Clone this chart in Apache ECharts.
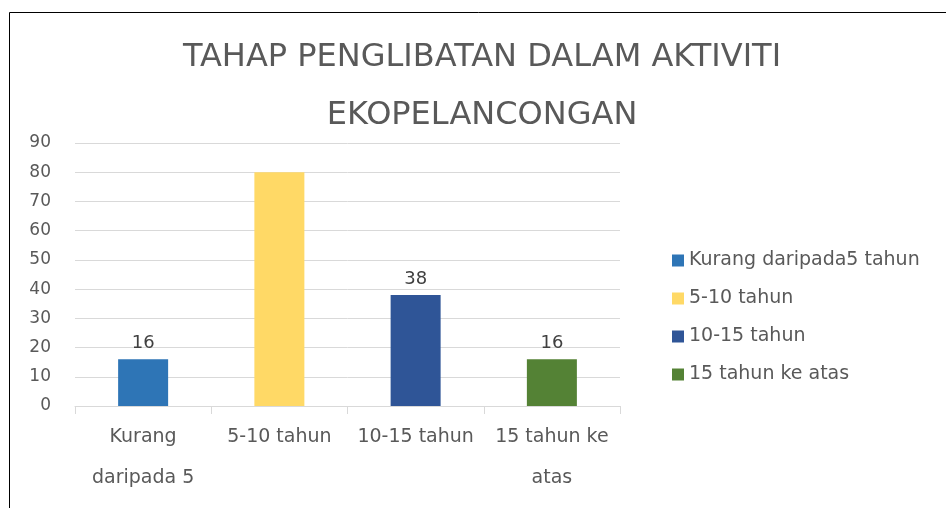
<!DOCTYPE html>
<html>
<head>
<meta charset="utf-8">
<script src="https://cdn.jsdelivr.net/npm/echarts@6/dist/echarts.min.js"></script>
<style>
  html, body { margin: 0; padding: 0; background: #fff; }
  #chart { width: 946px; height: 508px; }
</style>
</head>
<body>
<div id="chart"></div>
<script>
// data
const categories = ['Kurang daripada5 tahun', '5-10 tahun', '10-15 tahun', '15 tahun ke atas']
const axisLabels = ['Kurang\ndaripada 5\ntahun', '5-10 tahun', '10-15 tahun', '15 tahun ke\natas']
const values = [16, 80, 38, 16]
const colors = ['#2E75B6', '#FFD966', '#2F5597', '#548235']
const labelShown = [true, false, true, true] // yellow bar label is not visible in the reference
const titleLines = ['TAHAP PENGLIBATAN DALAM AKTIVITI', 'EKOPELANCONGAN']

const myChart = echarts.init(document.getElementById('chart'))

// one series per category so every bar gets its own legend entry
const series = categories.map((name, i) => ({
  name: name,
  type: 'bar',
  stack: 'all',
  barWidth: 50,
  itemStyle: { color: colors[i] },
  label: {
    show: labelShown[i],
    position: 'top',
    distance: 7,
    color: '#404040',
    fontSize: 18,
    fontFamily: 'DejaVu Sans'
  },
  data: values.map((v, j) => (j === i ? v : '-'))
}))

const titleStyle = {
  fontFamily: 'DejaVu Sans',
  fontSize: 32,
  fontWeight: 'normal',
  color: '#595959'
}

const option = {
  animation: false,
  backgroundColor: '#fff',
  title: titleLines.map((t, i) => ({
    text: t,
    left: 482,
    textAlign: 'center',
    top: 42 + i * 58,
    padding: 0,
    textStyle: titleStyle
  })),
  legend: {
    orient: 'vertical',
    left: 667,
    top: 246,
    itemWidth: 12,
    itemHeight: 12,
    itemGap: 19,
    icon: 'rect',
    textStyle: {
      fontFamily: 'DejaVu Sans',
      fontSize: 19,
      color: '#595959'
    },
    data: categories
  },
  grid: {
    left: 75,
    right: 326,
    top: 143,
    bottom: 102,
    outerBoundsMode: 'none'
  },
  xAxis: {
    type: 'category',
    data: axisLabels,
    axisLine: { lineStyle: { color: '#d9d9d9' } },
    axisTick: { show: true, length: 8, lineStyle: { color: '#d9d9d9' } },
    axisLabel: {
      interval: 0,
      margin: 11,
      fontFamily: 'DejaVu Sans',
      fontSize: 19,
      color: '#595959',
      lineHeight: 41
    }
  },
  yAxis: {
    type: 'value',
    min: 0,
    max: 90,
    interval: 10,
    axisLine: { show: false },
    axisTick: { show: false },
    splitLine: { lineStyle: { color: '#d9d9d9' } },
    axisLabel: {
      margin: 24,
      fontFamily: 'DejaVu Sans',
      fontSize: 17,
      color: '#595959'
    }
  },
  graphic: [{
    type: 'rect',
    shape: { x: 9.5, y: 12.5, width: 960, height: 520 },
    style: { fill: 'none', stroke: '#000', lineWidth: 1 },
    silent: true
  }],
  series: series
}
myChart.setOption(option)
</script>
</body>
</html>
